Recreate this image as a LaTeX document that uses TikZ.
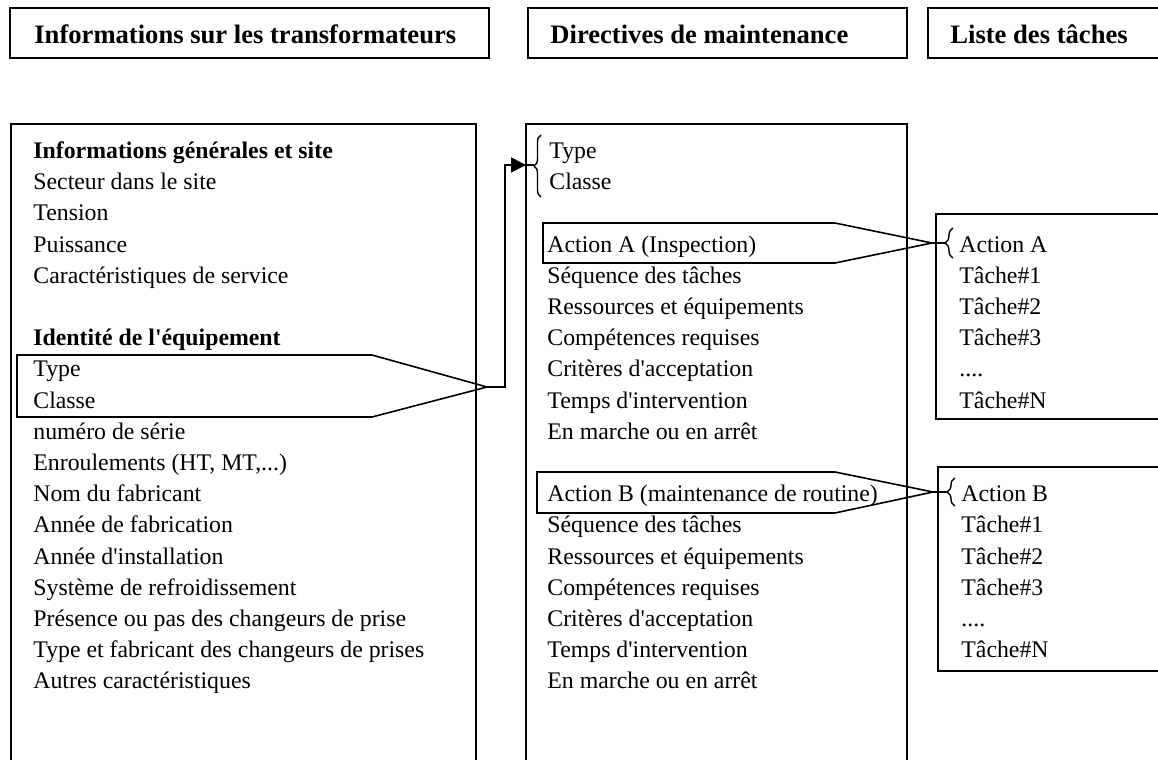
\documentclass[tikz,border=0pt]{standalone}
\usepackage{fontspec}
\setmainfont{Liberation Serif}
\usetikzlibrary{arrows.meta,decorations.pathreplacing}

\tikzset{
	ligne/.style={anchor=west, inner sep=0pt, text height=1.6ex, text depth=.4ex, font=\fontsize{11.9}{14}\selectfont},
	titre/.style={anchor=west, inner sep=0pt, font=\fontsize{13.3}{15}\selectfont\bfseries},
	cadre/.style={line width=0.75pt},
	entete/.style={line width=1pt},
	bulle/.style={line width=0.8pt, line join=miter},
	accolade/.style={decorate, decoration={brace, amplitude=3.5pt}, line width=0.7pt},
}

\begin{document}
\begin{tikzpicture}[x=0.5pt,y=-0.5pt]
		\useasboundingbox (0,0) rectangle (1158,760);
		
		% En-tetes
		\draw[entete] (10,8) rectangle (489,58);
		\draw[entete] (528,8) rectangle (907,58);
		\draw[entete] (928,8) rectangle (1170,58);
		\node[titre] (h1) at (34,34) {Informations sur les transformateurs};
		\node[titre] (h2) at (550,34) {Directives de maintenance};
		\node[titre] (h3) at (950,34) {Liste des tâches};
		
		% Cadres
		\draw[cadre] (11,124) rectangle (476,790);
		\draw[cadre] (526,124) rectangle (907,790);
		\draw[cadre] (936,214) rectangle (1170,419);
		\draw[cadre] (938,467) rectangle (1170,671);
		
		% Informations sur les transformateurs
		\foreach \k/\t [count=\i] in {
			0/{\textbf{Informations générales et site}}, 1/Secteur dans le site,
			2/Tension, 3/Puissance, 4/Caractéristiques de service,
			6/{\textbf{Identité de l\textquotesingle équipement}}, 7/Type, 8/Classe,
			9/numéro de série, 10/{Enroulements (HT, MT,..{}.)}, 11/Nom du fabricant,
			12/Année de fabrication, 13/Année d\textquotesingle installation,
			14/Système de refroidissement, 15/Présence ou pas des changeurs de prise,
			16/Type et fabricant des changeurs de prises, 17/Autres caractéristiques}
			\node[ligne] (g\i) at (33,{153+31.2*\k}) {\t};
		
		% Directives de maintenance
		\node[ligne] (mT) at (549,153) {Type};
		\node[ligne] (mC) at (549,184.2) {Classe};
		\foreach \k/\s/\t in {3/A/{Action A (Inspection)}, 11/B/{Action B (maintenance de routine)}}
			\node[ligne] (act\s) at (547,{153+31.2*\k}) {\t};
		\foreach \d/\s in {4/a,12/b}
			\foreach \t [count=\i from 0] in {Séquence des tâches, Ressources et équipements,
				Compétences requises, Critères d\textquotesingle acceptation,
				Temps d\textquotesingle intervention, En marche ou en arrêt}
				\node[ligne] (m\s\i) at (547,{153+31.2*(\d+\i)}) {\t};
		
		% Liste des taches
		\foreach \k/\s/\x in {3/A/959,11/B/961} {
			\node[ligne] (l\s0) at (\x,{153+31.2*\k}) {Action \s};
			\foreach \t [count=\i] in {Tâche\#1, Tâche\#2, Tâche\#3, ..{}.., Tâche\#N}
				\node[ligne] (l\s\i) at (\x,{153+31.2*(\k+\i)}) {\t};
		}
		
		% Fleches
		\coordinate (t0) at (487,387);
		\coordinate (m0) at (526,165);
		\coordinate (b0) at (534,165);
		\draw[bulle] (17,355) -- (372,355) -- (t0) -- (372,417) -- (17,417) -- cycle;
		\draw[line width=0.8pt, -{Triangle[length=7.5pt,width=7.5pt]}] (t0) -- (505,387) |- (m0);
		\draw[line width=0.6pt] (m0) -- (b0);
		\draw[accolade] (541,197) -- (541,135);
		
		\coordinate (tA) at (932,243);
		\coordinate (bA) at (945,243);
		\draw[bulle] (543,223) -- (835,223) -- (tA) -- (835,263) -- (543,263) -- cycle;
		\draw[line width=0.7pt] (tA) -- (bA);
		\draw[accolade, decoration={amplitude=4pt}] (953,258) -- (953,228);
		
		\coordinate (tB) at (933,492);
		\coordinate (bB) at (947,492);
		\draw[bulle] (537,472) -- (835,472) -- (tB) -- (835,513) -- (537,513) -- cycle;
		\draw[line width=0.7pt] (tB) -- (bB);
		\draw[accolade, decoration={amplitude=4pt}] (955,506) -- (955,478);
	\end{tikzpicture}
\end{document}
